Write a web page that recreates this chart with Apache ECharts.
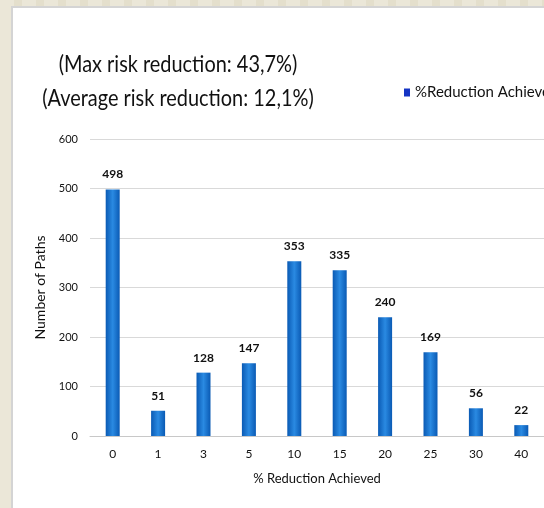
<!DOCTYPE html>
<html>
<head>
<meta charset="utf-8">
<script src="https://cdn.jsdelivr.net/npm/echarts@6/dist/echarts.min.js"></script>
<style>
  html, body { margin: 0; padding: 0; width: 544px; height: 508px; overflow: hidden; }
  body {
    background: repeating-linear-gradient(90deg, #ebe7d8 0px, #ebe7d8 14px, #e4dfcc 14px, #e4dfcc 22px);
  }
  #frame {
    position: absolute; left: 11px; top: 6px; right: 0; bottom: 0;
    background: #ffffff;
    border-left: 2px solid #d4d4d4; border-top: 2px solid #d4d4d4;
  }
  #chart { position: absolute; left: 0; top: 0; width: 544px; height: 508px; }
</style>
</head>
<body>
<div id="frame"></div>
<div id="chart"></div>
<script>
// Paths per achieved risk-reduction bucket
const categories = ['0', '1', '3', '5', '10', '15', '20', '25', '30', '40'];
const pathCounts = [498, 51, 128, 147, 353, 335, 240, 169, 56, 22];
const yTicks = { min: 0, max: 600, interval: 100 };
const titleLines = ['(Max risk reduction: 43,7%)', '(Average risk reduction: 12,1%)'];
const seriesName = '%Reduction Achieved';
const xAxisTitle = '% Reduction Achieved';
const yAxisTitle = 'Number of Paths';

const FONT = 'Lato, "Open Sans", sans-serif';

const barFill = new echarts.graphic.LinearGradient(0, 0, 1, 0, [
  { offset: 0, color: '#0a5ab4' },
  { offset: 0.5, color: '#2a8ae2' },
  { offset: 1, color: '#0a5ab4' }
]);

// Two-line heading, drawn condensed so the tall letters keep a narrow set width
const headingLines = titleLines.map((line, i) => ({
  type: 'text',
  x: 178,
  y: 64 + i * 34,
  scaleX: 0.83,
  silent: true,
  style: {
    text: line,
    font: '24px ' + FONT,
    fill: '#111111',
    align: 'center',
    verticalAlign: 'middle'
  }
}));

const chart = echarts.init(document.getElementById('chart'), null, { renderer: 'canvas' });
chart.setOption({
  backgroundColor: 'transparent',
  animation: false,
  graphic: headingLines,
  legend: {
    data: [{ name: seriesName, itemStyle: { color: '#1434c4' } }],
    left: 399,
    top: 80,
    itemWidth: 6,
    itemHeight: 8,
    icon: 'rect',
    textStyle: { fontFamily: FONT, fontSize: 15, color: '#111111' }
  },
  grid: { left: 90, right: -5, top: 139, bottom: 72, containLabel: false },
  xAxis: {
    type: 'category',
    data: categories,
    name: xAxisTitle,
    nameLocation: 'middle',
    nameGap: 36,
    nameTextStyle: { fontFamily: FONT, fontSize: 13, color: '#111111' },
    axisLine: { lineStyle: { color: '#c8c8c8', width: 1 } },
    axisTick: { show: false },
    axisLabel: { margin: 12, fontFamily: FONT, fontSize: 12, color: '#111111' }
  },
  yAxis: {
    type: 'value',
    min: yTicks.min,
    max: yTicks.max,
    interval: yTicks.interval,
    name: yAxisTitle,
    nameLocation: 'middle',
    nameGap: 41,
    nameTextStyle: { fontFamily: FONT, fontSize: 14, color: '#111111' },
    axisLine: { show: false },
    axisTick: { show: false },
    axisLabel: { margin: 12, fontFamily: FONT, fontSize: 11, color: '#111111' },
    splitLine: { lineStyle: { color: '#d9d9d9', width: 1 } }
  },
  series: [{
    name: seriesName,
    type: 'bar',
    data: pathCounts,
    barWidth: 14,
    itemStyle: { color: barFill },
    label: {
      show: true,
      position: 'top',
      distance: 9,
      fontFamily: FONT,
      fontSize: 12,
      fontWeight: 'bold',
      color: '#111111'
    }
  }]
});
</script>
</body>
</html>
